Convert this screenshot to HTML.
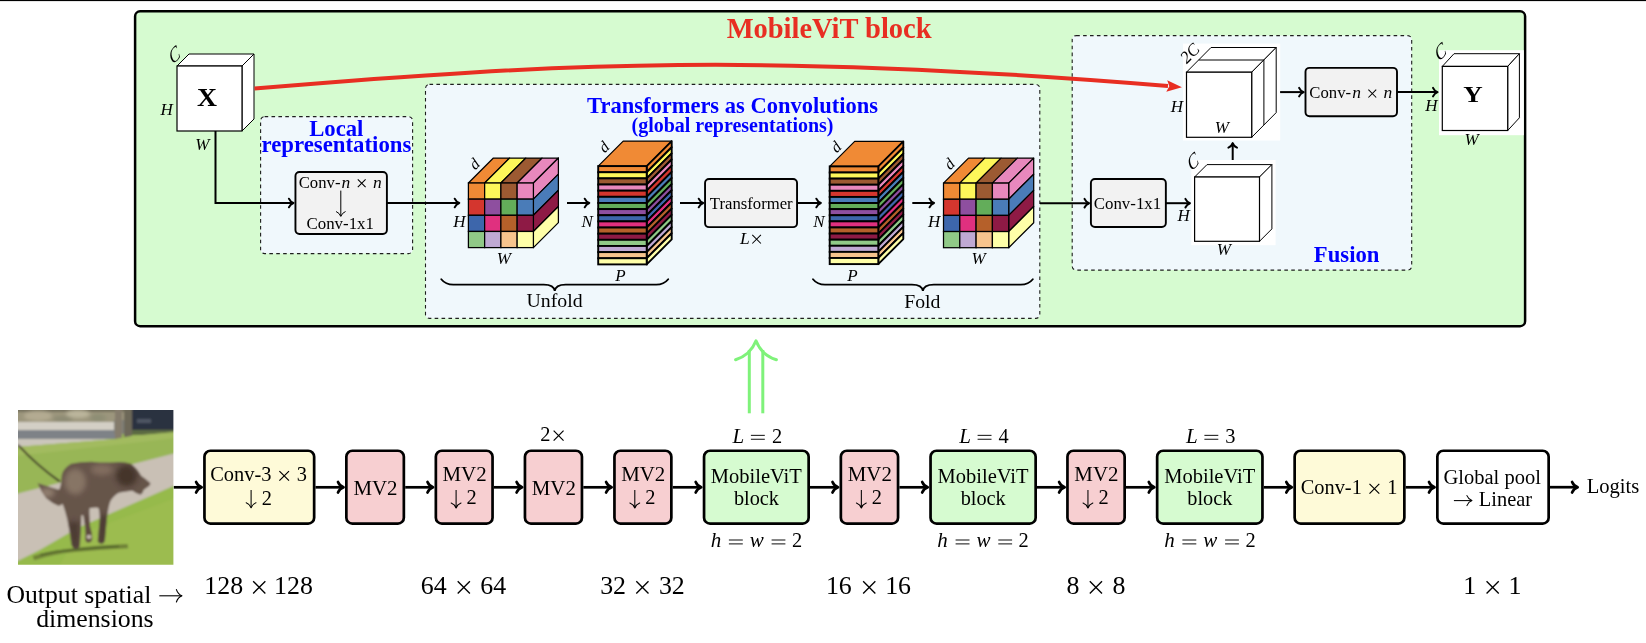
<!DOCTYPE html><html><head><meta charset="utf-8"><title>MobileViT</title><style>html,body{margin:0;padding:0;background:#fff;width:1646px;height:643px;overflow:hidden}svg{display:block;will-change:transform}text{font-family:"Liberation Serif",serif}</style></head><body>
<svg width="1646" height="643" viewBox="0 0 1646 643">
<rect x="0" y="0" width="1646" height="643" fill="#fff"/>
<rect x="0" y="0" width="1646" height="1.1" fill="#000"/>
<rect x="135.1" y="11.3" width="1390" height="314.9" rx="5" ry="5" fill="#d6fbd0" stroke="#000" stroke-width="2.5"/>
<text x="-102.78" y="0" font-size="28.5" font-weight="bold" font-style="normal" fill="#e82e22" transform="translate(829.4,37.7) scale(1.0,1.04)">MobileViT block</text>
<rect x="260.6" y="116.6" width="152" height="137" rx="4" ry="4" fill="#f0f8fc" stroke="#1e1e1e" stroke-width="1.1" stroke-dasharray="3.6,3.3"/>
<text x="309.20" y="135.60" font-size="22.7" font-weight="bold" font-style="normal" fill="#0000ff" >Local</text>
<text x="261.52" y="152.30" font-size="22.8" font-weight="bold" font-style="normal" fill="#0000ff" >representations</text>
<rect x="425.5" y="84.4" width="614.3" height="234" rx="4" ry="4" fill="#f0f8fc" stroke="#1e1e1e" stroke-width="1.1" stroke-dasharray="3.6,3.3"/>
<text x="587.08" y="112.50" font-size="22.5" font-weight="bold" font-style="normal" fill="#0000ff" >Transformers as Convolutions</text>
<text x="631.48" y="132.10" font-size="20.0" font-weight="bold" font-style="normal" fill="#0000ff" >(global representations)</text>
<rect x="1072.2" y="35.6" width="339.5" height="234.5" rx="4" ry="4" fill="#f0f8fc" stroke="#1e1e1e" stroke-width="1.1" stroke-dasharray="3.6,3.3"/>
<text x="1313.84" y="262.00" font-size="22.7" font-weight="bold" font-style="normal" fill="#0000ff" >Fusion</text>
<path d="M177,66 L189,54 L254,54 L242,66 Z" fill="#fff" stroke="#000" stroke-width="1.0" stroke-linejoin="round"/>
<path d="M242,66 L254,54 L254,119 L242,131 Z" fill="#fff" stroke="#000" stroke-width="1.0" stroke-linejoin="round"/>
<rect x="177" y="66" width="65.00" height="65.00" fill="#fff" stroke="#000" stroke-width="1.2"/>
<text x="-9.17" y="0" font-size="25.2" font-weight="bold" font-style="normal" fill="#000" transform="translate(207.15,106.2) scale(1.1,0.96)">X</text>
<text x="160.46" y="115.00" font-size="17" font-weight="normal" font-style="italic" fill="#000" >H</text>
<text x="195.31" y="150.20" font-size="17" font-weight="normal" font-style="italic" fill="#000" >W</text>
<text x="-6.67" y="5.94" font-size="18.2" font-style="italic" transform="translate(174.9,54.6) rotate(-45) skewX(-20)">C</text>
<path d="M254.5,88.5 C565.8,62.26 769.7,53.04 1168,86" fill="none" stroke="#e82e22" stroke-width="4.0"/>
<path d="M0,0 L-15.2,-5.8 L-12.6,0 L-15.2,5.8 Z" fill="#e82e22" transform="translate(1181.9,87.2) rotate(4.7)"/>
<path d="M215.5,131 L215.5,203 L293,203" fill="none" stroke="#000" stroke-width="2" stroke-linejoin="miter"/>
<path d="M288.90,198.70 Q290.19,201.80 293.50,203.00 Q290.19,204.20 288.90,207.30" fill="none" stroke="#000" stroke-width="2.0" stroke-linecap="round" stroke-linejoin="round"/>
<rect x="295.45" y="172" width="91.45" height="62" rx="4" ry="4" fill="#f2f2f2" stroke="#000" stroke-width="1.9"/>
<text x="298.73" y="187.50" font-size="16.7" font-weight="normal" font-style="normal" fill="#000" >Conv-</text>
<text x="341.59" y="187.50" font-size="17.5" font-weight="normal" font-style="italic" fill="#000" >n</text>
<path d="M357.80,179.40 L365.60,187.20 M365.60,179.40 L357.80,187.20" stroke="#000" stroke-width="1.05" fill="none"/>
<text x="372.99" y="187.50" font-size="17.5" font-weight="normal" font-style="italic" fill="#000" >n</text>
<line x1="340.8" y1="190.6" x2="340.8" y2="216" stroke="#000" stroke-width="1.0"/>
<path d="M336.40,211.65 Q339.57,212.99 340.80,216.45 Q342.03,212.99 345.20,211.65" fill="none" stroke="#000" stroke-width="1.0" stroke-linecap="round" stroke-linejoin="round"/>
<text x="306.52" y="229.30" font-size="16.85" font-weight="normal" font-style="normal" fill="#000" >Conv-1x1</text>
<line x1="387" y1="203" x2="459.00" y2="203" stroke="#000" stroke-width="2.0"/>
<path d="M454.70,198.70 Q455.99,201.80 459.30,203.00 Q455.99,204.20 454.70,207.30" fill="none" stroke="#000" stroke-width="2.0" stroke-linecap="round" stroke-linejoin="round"/>
<path d="M468.40,183 L493.40,158 L509.65,158 L484.65,183 Z" fill="#f08a35" stroke="#000" stroke-width="1.25" stroke-linejoin="round"/>
<path d="M484.65,183 L509.65,158 L525.90,158 L500.90,183 Z" fill="#fdf75a" stroke="#000" stroke-width="1.25" stroke-linejoin="round"/>
<path d="M500.90,183 L525.90,158 L542.15,158 L517.15,183 Z" fill="#9c5a32" stroke="#000" stroke-width="1.25" stroke-linejoin="round"/>
<path d="M517.15,183 L542.15,158 L558.40,158 L533.40,183 Z" fill="#e888bd" stroke="#000" stroke-width="1.25" stroke-linejoin="round"/>
<path d="M533.4,183.00 L558.4,158.00 L558.4,174.15 L533.4,199.15 Z" fill="#e888bd" stroke="#000" stroke-width="1.25" stroke-linejoin="round"/>
<path d="M533.4,199.15 L558.4,174.15 L558.4,190.30 L533.4,215.30 Z" fill="#4a7cb8" stroke="#000" stroke-width="1.25" stroke-linejoin="round"/>
<path d="M533.4,215.30 L558.4,190.30 L558.4,206.45 L533.4,231.45 Z" fill="#8e1a45" stroke="#000" stroke-width="1.25" stroke-linejoin="round"/>
<path d="M533.4,231.45 L558.4,206.45 L558.4,222.60 L533.4,247.60 Z" fill="#ffffa8" stroke="#000" stroke-width="1.25" stroke-linejoin="round"/>
<rect x="468.40" y="183.00" width="16.25" height="16.15" fill="#f08a35" stroke="#000" stroke-width="1.25"/>
<rect x="484.65" y="183.00" width="16.25" height="16.15" fill="#fdf75a" stroke="#000" stroke-width="1.25"/>
<rect x="500.90" y="183.00" width="16.25" height="16.15" fill="#9c5a32" stroke="#000" stroke-width="1.25"/>
<rect x="517.15" y="183.00" width="16.25" height="16.15" fill="#e888bd" stroke="#000" stroke-width="1.25"/>
<rect x="468.40" y="199.15" width="16.25" height="16.15" fill="#d4362e" stroke="#000" stroke-width="1.25"/>
<rect x="484.65" y="199.15" width="16.25" height="16.15" fill="#8e4f9f" stroke="#000" stroke-width="1.25"/>
<rect x="500.90" y="199.15" width="16.25" height="16.15" fill="#63ad5a" stroke="#000" stroke-width="1.25"/>
<rect x="517.15" y="199.15" width="16.25" height="16.15" fill="#4a7cb8" stroke="#000" stroke-width="1.25"/>
<rect x="468.40" y="215.30" width="16.25" height="16.15" fill="#3d66ab" stroke="#000" stroke-width="1.25"/>
<rect x="484.65" y="215.30" width="16.25" height="16.15" fill="#e0307f" stroke="#000" stroke-width="1.25"/>
<rect x="500.90" y="215.30" width="16.25" height="16.15" fill="#b5602a" stroke="#000" stroke-width="1.25"/>
<rect x="517.15" y="215.30" width="16.25" height="16.15" fill="#8e1a45" stroke="#000" stroke-width="1.25"/>
<rect x="468.40" y="231.45" width="16.25" height="16.15" fill="#90c987" stroke="#000" stroke-width="1.25"/>
<rect x="484.65" y="231.45" width="16.25" height="16.15" fill="#bfa9d3" stroke="#000" stroke-width="1.25"/>
<rect x="500.90" y="231.45" width="16.25" height="16.15" fill="#f7c48d" stroke="#000" stroke-width="1.25"/>
<rect x="517.15" y="231.45" width="16.25" height="16.15" fill="#ffffa8" stroke="#000" stroke-width="1.25"/>
<text x="453.26" y="226.60" font-size="17" font-weight="normal" font-style="italic" fill="#000" >H</text>
<text x="496.71" y="263.50" font-size="17" font-weight="normal" font-style="italic" fill="#000" >W</text>
<text x="-4.26" y="5.48" font-size="16" font-style="italic" transform="translate(474.5,163.5) rotate(-45) skewX(0)">d</text>
<line x1="567" y1="203" x2="589.00" y2="203" stroke="#000" stroke-width="2.0"/>
<path d="M584.70,198.70 Q585.99,201.80 589.30,203.00 Q585.99,204.20 584.70,207.30" fill="none" stroke="#000" stroke-width="2.0" stroke-linecap="round" stroke-linejoin="round"/>
<path d="M598.2,166.1 L623.2,141.1 L671.7,141.1 L646.7,166.1 Z" fill="#f08a35" stroke="#000" stroke-width="1.2" stroke-linejoin="round"/>
<path d="M646.7,166.10 L671.7,141.10 L671.7,147.24 L646.7,172.24 Z" fill="#f08a35" stroke="#000" stroke-width="1.9" stroke-linejoin="round"/>
<path d="M646.7,172.24 L671.7,147.24 L671.7,153.39 L646.7,178.39 Z" fill="#fdf75a" stroke="#000" stroke-width="1.9" stroke-linejoin="round"/>
<path d="M646.7,178.39 L671.7,153.39 L671.7,159.53 L646.7,184.53 Z" fill="#9c5a32" stroke="#000" stroke-width="1.9" stroke-linejoin="round"/>
<path d="M646.7,184.53 L671.7,159.53 L671.7,165.68 L646.7,190.68 Z" fill="#e888bd" stroke="#000" stroke-width="1.9" stroke-linejoin="round"/>
<path d="M646.7,190.67 L671.7,165.67 L671.7,171.82 L646.7,196.82 Z" fill="#d4362e" stroke="#000" stroke-width="1.9" stroke-linejoin="round"/>
<path d="M646.7,196.82 L671.7,171.82 L671.7,177.96 L646.7,202.96 Z" fill="#4a7cb8" stroke="#000" stroke-width="1.9" stroke-linejoin="round"/>
<path d="M646.7,202.96 L671.7,177.96 L671.7,184.11 L646.7,209.11 Z" fill="#63ad5a" stroke="#000" stroke-width="1.9" stroke-linejoin="round"/>
<path d="M646.7,209.11 L671.7,184.11 L671.7,190.25 L646.7,215.25 Z" fill="#8e4f9f" stroke="#000" stroke-width="1.9" stroke-linejoin="round"/>
<path d="M646.7,215.25 L671.7,190.25 L671.7,196.39 L646.7,221.39 Z" fill="#3d66ab" stroke="#000" stroke-width="1.9" stroke-linejoin="round"/>
<path d="M646.7,221.39 L671.7,196.39 L671.7,202.54 L646.7,227.54 Z" fill="#e0307f" stroke="#000" stroke-width="1.9" stroke-linejoin="round"/>
<path d="M646.7,227.54 L671.7,202.54 L671.7,208.68 L646.7,233.68 Z" fill="#b5602a" stroke="#000" stroke-width="1.9" stroke-linejoin="round"/>
<path d="M646.7,233.68 L671.7,208.68 L671.7,214.82 L646.7,239.82 Z" fill="#8e1a45" stroke="#000" stroke-width="1.9" stroke-linejoin="round"/>
<path d="M646.7,239.82 L671.7,214.82 L671.7,220.97 L646.7,245.97 Z" fill="#90c987" stroke="#000" stroke-width="1.9" stroke-linejoin="round"/>
<path d="M646.7,245.97 L671.7,220.97 L671.7,227.11 L646.7,252.11 Z" fill="#bfa9d3" stroke="#000" stroke-width="1.9" stroke-linejoin="round"/>
<path d="M646.7,252.11 L671.7,227.11 L671.7,233.26 L646.7,258.26 Z" fill="#f7c48d" stroke="#000" stroke-width="1.9" stroke-linejoin="round"/>
<path d="M646.7,258.26 L671.7,233.26 L671.7,239.40 L646.7,264.40 Z" fill="#ffffa8" stroke="#000" stroke-width="1.9" stroke-linejoin="round"/>
<rect x="598.2" y="166.10" width="48.50" height="6.14" fill="#f08a35" stroke="#000" stroke-width="1.9"/>
<rect x="598.2" y="172.24" width="48.50" height="6.14" fill="#fdf75a" stroke="#000" stroke-width="1.9"/>
<rect x="598.2" y="178.39" width="48.50" height="6.14" fill="#9c5a32" stroke="#000" stroke-width="1.9"/>
<rect x="598.2" y="184.53" width="48.50" height="6.14" fill="#e888bd" stroke="#000" stroke-width="1.9"/>
<rect x="598.2" y="190.67" width="48.50" height="6.14" fill="#d4362e" stroke="#000" stroke-width="1.9"/>
<rect x="598.2" y="196.82" width="48.50" height="6.14" fill="#4a7cb8" stroke="#000" stroke-width="1.9"/>
<rect x="598.2" y="202.96" width="48.50" height="6.14" fill="#63ad5a" stroke="#000" stroke-width="1.9"/>
<rect x="598.2" y="209.11" width="48.50" height="6.14" fill="#8e4f9f" stroke="#000" stroke-width="1.9"/>
<rect x="598.2" y="215.25" width="48.50" height="6.14" fill="#3d66ab" stroke="#000" stroke-width="1.9"/>
<rect x="598.2" y="221.39" width="48.50" height="6.14" fill="#e0307f" stroke="#000" stroke-width="1.9"/>
<rect x="598.2" y="227.54" width="48.50" height="6.14" fill="#b5602a" stroke="#000" stroke-width="1.9"/>
<rect x="598.2" y="233.68" width="48.50" height="6.14" fill="#8e1a45" stroke="#000" stroke-width="1.9"/>
<rect x="598.2" y="239.82" width="48.50" height="6.14" fill="#90c987" stroke="#000" stroke-width="1.9"/>
<rect x="598.2" y="245.97" width="48.50" height="6.14" fill="#bfa9d3" stroke="#000" stroke-width="1.9"/>
<rect x="598.2" y="252.11" width="48.50" height="6.14" fill="#f7c48d" stroke="#000" stroke-width="1.9"/>
<rect x="598.2" y="258.26" width="48.50" height="6.14" fill="#ffffa8" stroke="#000" stroke-width="1.9"/>
<text x="581.51" y="226.60" font-size="17" font-weight="normal" font-style="italic" fill="#000" >N</text>
<text x="615.27" y="281.00" font-size="17" font-weight="normal" font-style="italic" fill="#000" >P</text>
<text x="-4.26" y="5.48" font-size="16" font-style="italic" transform="translate(604,146.5) rotate(-45) skewX(0)">d</text>
<line x1="680" y1="203" x2="703.00" y2="203" stroke="#000" stroke-width="2.0"/>
<path d="M698.70,198.70 Q699.99,201.80 703.30,203.00 Q699.99,204.20 698.70,207.30" fill="none" stroke="#000" stroke-width="2.0" stroke-linecap="round" stroke-linejoin="round"/>
<rect x="705.05" y="178.95" width="92" height="48.2" rx="4" ry="4" fill="#f2f2f2" stroke="#000" stroke-width="1.9"/>
<text x="709.83" y="209.10" font-size="16.7" font-weight="normal" font-style="normal" fill="#000" >Transformer</text>
<text x="740.00" y="243.60" font-size="17.5" font-weight="normal" font-style="italic" fill="#000" >L</text>
<path d="M752.30,234.90 L760.90,243.50 M760.90,234.90 L752.30,243.50" stroke="#000" stroke-width="1.05" fill="none"/>
<line x1="798" y1="203" x2="820.60" y2="203" stroke="#000" stroke-width="2.0"/>
<path d="M816.30,198.70 Q817.59,201.80 820.90,203.00 Q817.59,204.20 816.30,207.30" fill="none" stroke="#000" stroke-width="2.0" stroke-linecap="round" stroke-linejoin="round"/>
<path d="M829.7,166.4 L854.7,141.4 L903.3,141.4 L878.3,166.4 Z" fill="#f08a35" stroke="#000" stroke-width="1.2" stroke-linejoin="round"/>
<path d="M878.3,166.40 L903.3,141.40 L903.3,147.51 L878.3,172.51 Z" fill="#f08a35" stroke="#000" stroke-width="1.9" stroke-linejoin="round"/>
<path d="M878.3,172.51 L903.3,147.51 L903.3,153.61 L878.3,178.61 Z" fill="#fdf75a" stroke="#000" stroke-width="1.9" stroke-linejoin="round"/>
<path d="M878.3,178.61 L903.3,153.61 L903.3,159.72 L878.3,184.72 Z" fill="#9c5a32" stroke="#000" stroke-width="1.9" stroke-linejoin="round"/>
<path d="M878.3,184.72 L903.3,159.72 L903.3,165.82 L878.3,190.82 Z" fill="#e888bd" stroke="#000" stroke-width="1.9" stroke-linejoin="round"/>
<path d="M878.3,190.83 L903.3,165.83 L903.3,171.93 L878.3,196.93 Z" fill="#d4362e" stroke="#000" stroke-width="1.9" stroke-linejoin="round"/>
<path d="M878.3,196.93 L903.3,171.93 L903.3,178.04 L878.3,203.04 Z" fill="#4a7cb8" stroke="#000" stroke-width="1.9" stroke-linejoin="round"/>
<path d="M878.3,203.04 L903.3,178.04 L903.3,184.14 L878.3,209.14 Z" fill="#63ad5a" stroke="#000" stroke-width="1.9" stroke-linejoin="round"/>
<path d="M878.3,209.14 L903.3,184.14 L903.3,190.25 L878.3,215.25 Z" fill="#8e4f9f" stroke="#000" stroke-width="1.9" stroke-linejoin="round"/>
<path d="M878.3,215.25 L903.3,190.25 L903.3,196.36 L878.3,221.36 Z" fill="#3d66ab" stroke="#000" stroke-width="1.9" stroke-linejoin="round"/>
<path d="M878.3,221.36 L903.3,196.36 L903.3,202.46 L878.3,227.46 Z" fill="#e0307f" stroke="#000" stroke-width="1.9" stroke-linejoin="round"/>
<path d="M878.3,227.46 L903.3,202.46 L903.3,208.57 L878.3,233.57 Z" fill="#b5602a" stroke="#000" stroke-width="1.9" stroke-linejoin="round"/>
<path d="M878.3,233.57 L903.3,208.57 L903.3,214.68 L878.3,239.68 Z" fill="#8e1a45" stroke="#000" stroke-width="1.9" stroke-linejoin="round"/>
<path d="M878.3,239.68 L903.3,214.68 L903.3,220.78 L878.3,245.78 Z" fill="#90c987" stroke="#000" stroke-width="1.9" stroke-linejoin="round"/>
<path d="M878.3,245.78 L903.3,220.78 L903.3,226.89 L878.3,251.89 Z" fill="#bfa9d3" stroke="#000" stroke-width="1.9" stroke-linejoin="round"/>
<path d="M878.3,251.89 L903.3,226.89 L903.3,232.99 L878.3,257.99 Z" fill="#f7c48d" stroke="#000" stroke-width="1.9" stroke-linejoin="round"/>
<path d="M878.3,257.99 L903.3,232.99 L903.3,239.10 L878.3,264.10 Z" fill="#ffffa8" stroke="#000" stroke-width="1.9" stroke-linejoin="round"/>
<rect x="829.7" y="166.40" width="48.60" height="6.11" fill="#f08a35" stroke="#000" stroke-width="1.9"/>
<rect x="829.7" y="172.51" width="48.60" height="6.11" fill="#fdf75a" stroke="#000" stroke-width="1.9"/>
<rect x="829.7" y="178.61" width="48.60" height="6.11" fill="#9c5a32" stroke="#000" stroke-width="1.9"/>
<rect x="829.7" y="184.72" width="48.60" height="6.11" fill="#e888bd" stroke="#000" stroke-width="1.9"/>
<rect x="829.7" y="190.83" width="48.60" height="6.11" fill="#d4362e" stroke="#000" stroke-width="1.9"/>
<rect x="829.7" y="196.93" width="48.60" height="6.11" fill="#4a7cb8" stroke="#000" stroke-width="1.9"/>
<rect x="829.7" y="203.04" width="48.60" height="6.11" fill="#63ad5a" stroke="#000" stroke-width="1.9"/>
<rect x="829.7" y="209.14" width="48.60" height="6.11" fill="#8e4f9f" stroke="#000" stroke-width="1.9"/>
<rect x="829.7" y="215.25" width="48.60" height="6.11" fill="#3d66ab" stroke="#000" stroke-width="1.9"/>
<rect x="829.7" y="221.36" width="48.60" height="6.11" fill="#e0307f" stroke="#000" stroke-width="1.9"/>
<rect x="829.7" y="227.46" width="48.60" height="6.11" fill="#b5602a" stroke="#000" stroke-width="1.9"/>
<rect x="829.7" y="233.57" width="48.60" height="6.11" fill="#8e1a45" stroke="#000" stroke-width="1.9"/>
<rect x="829.7" y="239.68" width="48.60" height="6.11" fill="#90c987" stroke="#000" stroke-width="1.9"/>
<rect x="829.7" y="245.78" width="48.60" height="6.11" fill="#bfa9d3" stroke="#000" stroke-width="1.9"/>
<rect x="829.7" y="251.89" width="48.60" height="6.11" fill="#f7c48d" stroke="#000" stroke-width="1.9"/>
<rect x="829.7" y="257.99" width="48.60" height="6.11" fill="#ffffa8" stroke="#000" stroke-width="1.9"/>
<text x="813.21" y="226.50" font-size="17" font-weight="normal" font-style="italic" fill="#000" >N</text>
<text x="847.37" y="281.00" font-size="17" font-weight="normal" font-style="italic" fill="#000" >P</text>
<text x="-4.26" y="5.48" font-size="16" font-style="italic" transform="translate(836,146.7) rotate(-45) skewX(0)">d</text>
<line x1="912.3" y1="203" x2="933.80" y2="203" stroke="#000" stroke-width="2.0"/>
<path d="M929.50,198.70 Q930.79,201.80 934.10,203.00 Q930.79,204.20 929.50,207.30" fill="none" stroke="#000" stroke-width="2.0" stroke-linecap="round" stroke-linejoin="round"/>
<path d="M943.50,183.1 L968.50,158.1 L984.80,158.1 L959.80,183.1 Z" fill="#f08a35" stroke="#000" stroke-width="1.25" stroke-linejoin="round"/>
<path d="M959.80,183.1 L984.80,158.1 L1001.10,158.1 L976.10,183.1 Z" fill="#fdf75a" stroke="#000" stroke-width="1.25" stroke-linejoin="round"/>
<path d="M976.10,183.1 L1001.10,158.1 L1017.40,158.1 L992.40,183.1 Z" fill="#9c5a32" stroke="#000" stroke-width="1.25" stroke-linejoin="round"/>
<path d="M992.40,183.1 L1017.40,158.1 L1033.70,158.1 L1008.70,183.1 Z" fill="#e888bd" stroke="#000" stroke-width="1.25" stroke-linejoin="round"/>
<path d="M1008.7,183.10 L1033.7,158.10 L1033.7,174.25 L1008.7,199.25 Z" fill="#e888bd" stroke="#000" stroke-width="1.25" stroke-linejoin="round"/>
<path d="M1008.7,199.25 L1033.7,174.25 L1033.7,190.40 L1008.7,215.40 Z" fill="#4a7cb8" stroke="#000" stroke-width="1.25" stroke-linejoin="round"/>
<path d="M1008.7,215.40 L1033.7,190.40 L1033.7,206.55 L1008.7,231.55 Z" fill="#8e1a45" stroke="#000" stroke-width="1.25" stroke-linejoin="round"/>
<path d="M1008.7,231.55 L1033.7,206.55 L1033.7,222.70 L1008.7,247.70 Z" fill="#ffffa8" stroke="#000" stroke-width="1.25" stroke-linejoin="round"/>
<rect x="943.50" y="183.10" width="16.30" height="16.15" fill="#f08a35" stroke="#000" stroke-width="1.25"/>
<rect x="959.80" y="183.10" width="16.30" height="16.15" fill="#fdf75a" stroke="#000" stroke-width="1.25"/>
<rect x="976.10" y="183.10" width="16.30" height="16.15" fill="#9c5a32" stroke="#000" stroke-width="1.25"/>
<rect x="992.40" y="183.10" width="16.30" height="16.15" fill="#e888bd" stroke="#000" stroke-width="1.25"/>
<rect x="943.50" y="199.25" width="16.30" height="16.15" fill="#d4362e" stroke="#000" stroke-width="1.25"/>
<rect x="959.80" y="199.25" width="16.30" height="16.15" fill="#8e4f9f" stroke="#000" stroke-width="1.25"/>
<rect x="976.10" y="199.25" width="16.30" height="16.15" fill="#63ad5a" stroke="#000" stroke-width="1.25"/>
<rect x="992.40" y="199.25" width="16.30" height="16.15" fill="#4a7cb8" stroke="#000" stroke-width="1.25"/>
<rect x="943.50" y="215.40" width="16.30" height="16.15" fill="#3d66ab" stroke="#000" stroke-width="1.25"/>
<rect x="959.80" y="215.40" width="16.30" height="16.15" fill="#e0307f" stroke="#000" stroke-width="1.25"/>
<rect x="976.10" y="215.40" width="16.30" height="16.15" fill="#b5602a" stroke="#000" stroke-width="1.25"/>
<rect x="992.40" y="215.40" width="16.30" height="16.15" fill="#8e1a45" stroke="#000" stroke-width="1.25"/>
<rect x="943.50" y="231.55" width="16.30" height="16.15" fill="#90c987" stroke="#000" stroke-width="1.25"/>
<rect x="959.80" y="231.55" width="16.30" height="16.15" fill="#bfa9d3" stroke="#000" stroke-width="1.25"/>
<rect x="976.10" y="231.55" width="16.30" height="16.15" fill="#f7c48d" stroke="#000" stroke-width="1.25"/>
<rect x="992.40" y="231.55" width="16.30" height="16.15" fill="#ffffa8" stroke="#000" stroke-width="1.25"/>
<text x="928.06" y="226.50" font-size="17" font-weight="normal" font-style="italic" fill="#000" >H</text>
<text x="971.41" y="263.50" font-size="17" font-weight="normal" font-style="italic" fill="#000" >W</text>
<text x="-4.26" y="5.48" font-size="16" font-style="italic" transform="translate(949.5,163.7) rotate(-45) skewX(0)">d</text>
<path d="M441.3,279.2 C444.3,283.0 447.3,284.6 453.3,284.6 L543.75,284.6 C549.75,284.6 554.15,285.6 554.75,291.0 C555.35,285.6 559.75,284.6 565.75,284.6 L656.2,284.6 C662.2,284.6 665.2,283.0 668.2,279.2" fill="none" stroke="#000" stroke-width="1.8" stroke-linecap="round"/>
<text x="526.58" y="307.30" font-size="19.8" font-weight="normal" font-style="normal" fill="#000" >Unfold</text>
<path d="M813.0,279.2 C816.0,283.0 819.0,284.6 825.0,284.6 L911.9,284.6 C917.9,284.6 922.3,285.6 922.9,291.0 C923.5,285.6 927.9,284.6 933.9,284.6 L1020.8,284.6 C1026.8,284.6 1029.8,283.0 1032.8,279.2" fill="none" stroke="#000" stroke-width="1.8" stroke-linecap="round"/>
<text x="904.23" y="307.50" font-size="19.7" font-weight="normal" font-style="normal" fill="#000" >Fold</text>
<line x1="1040" y1="203.2" x2="1088.80" y2="203.2" stroke="#000" stroke-width="2.0"/>
<path d="M1084.50,198.90 Q1085.79,202.00 1089.10,203.20 Q1085.79,204.40 1084.50,207.50" fill="none" stroke="#000" stroke-width="2.0" stroke-linecap="round" stroke-linejoin="round"/>
<rect x="1090.9" y="178.95" width="74.95" height="48.05" rx="4" ry="4" fill="#f2f2f2" stroke="#000" stroke-width="1.9"/>
<text x="1093.77" y="209.30" font-size="16.85" font-weight="normal" font-style="normal" fill="#000" >Conv-1x1</text>
<line x1="1166" y1="203.2" x2="1189.70" y2="203.2" stroke="#000" stroke-width="2.0"/>
<path d="M1185.40,198.90 Q1186.69,202.00 1190.00,203.20 Q1186.69,204.40 1185.40,207.50" fill="none" stroke="#000" stroke-width="2.0" stroke-linecap="round" stroke-linejoin="round"/>
<rect x="1191.3" y="160" width="84.3" height="85.2" fill="#fff"/>
<path d="M1194.6,177 L1207.0,164.6 L1271.9,164.6 L1259.5,177 Z" fill="#fff" stroke="#000" stroke-width="1.0" stroke-linejoin="round"/>
<path d="M1259.5,177 L1271.9,164.6 L1271.9,228.9 L1259.5,241.3 Z" fill="#fff" stroke="#000" stroke-width="1.0" stroke-linejoin="round"/>
<rect x="1194.6" y="177" width="64.90" height="64.30" fill="#fff" stroke="#000" stroke-width="1.2"/>
<text x="-6.78" y="6.04" font-size="18.5" font-style="italic" transform="translate(1193.3,161.2) rotate(-45) skewX(-20)">C</text>
<text x="1177.56" y="221.00" font-size="17" font-weight="normal" font-style="italic" fill="#000" >H</text>
<text x="1216.81" y="255.40" font-size="17" font-weight="normal" font-style="italic" fill="#000" >W</text>
<line x1="1232.7" y1="160" x2="1232.7" y2="143.5" stroke="#000" stroke-width="2"/>
<path d="M1228.40,147.70 Q1231.50,146.41 1232.70,143.10 Q1233.90,146.41 1237.00,147.70" fill="none" stroke="#000" stroke-width="2.0" stroke-linecap="round" stroke-linejoin="round"/>
<rect x="1183" y="43.6" width="97.2" height="96.9" fill="#fff"/>
<path d="M1186.5,72.2 L1211.0,47.5 L1276.2,47.5 L1251.7,72.2 Z" fill="#fff" stroke="#000" stroke-width="1.0" stroke-linejoin="round"/>
<path d="M1251.7,72.2 L1276.2,47.5 L1276.2,112.60000000000001 L1251.7,137.3 Z" fill="#fff" stroke="#000" stroke-width="1.0" stroke-linejoin="round"/>
<rect x="1186.5" y="72.2" width="65.20" height="65.10" fill="#fff" stroke="#000" stroke-width="1.2"/>
<path d="M1198.7,60 L1263.9,60 L1263.9,125" fill="none" stroke="#000" stroke-width="1"/>
<text x="-10.01" y="5.55" font-size="17" font-style="italic" transform="translate(1190,53.3) rotate(-45) skewX(0)">2C</text>
<text x="1170.86" y="111.50" font-size="17" font-weight="normal" font-style="italic" fill="#000" >H</text>
<text x="1214.71" y="132.50" font-size="17" font-weight="normal" font-style="italic" fill="#000" >W</text>
<line x1="1280.1" y1="92.1" x2="1303.40" y2="92.1" stroke="#000" stroke-width="2.0"/>
<path d="M1299.10,87.80 Q1300.39,90.90 1303.70,92.10 Q1300.39,93.30 1299.10,96.40" fill="none" stroke="#000" stroke-width="2.0" stroke-linecap="round" stroke-linejoin="round"/>
<rect x="1305.5" y="67.85" width="91.5" height="48.45" rx="4" ry="4" fill="#f2f2f2" stroke="#000" stroke-width="1.9"/>
<text x="1309.33" y="97.80" font-size="16.7" font-weight="normal" font-style="normal" fill="#000" >Conv-</text>
<text x="1352.19" y="97.80" font-size="17.5" font-weight="normal" font-style="italic" fill="#000" >n</text>
<path d="M1368.40,89.70 L1376.20,97.50 M1376.20,89.70 L1368.40,97.50" stroke="#000" stroke-width="1.05" fill="none"/>
<text x="1383.59" y="97.80" font-size="17.5" font-weight="normal" font-style="italic" fill="#000" >n</text>
<line x1="1397.4" y1="92.1" x2="1437.30" y2="92.1" stroke="#000" stroke-width="2.0"/>
<path d="M1433.00,87.80 Q1434.29,90.90 1437.60,92.10 Q1434.29,93.30 1433.00,96.40" fill="none" stroke="#000" stroke-width="2.0" stroke-linecap="round" stroke-linejoin="round"/>
<rect x="1439" y="50.2" width="84.8" height="85" fill="#fff"/>
<path d="M1442.3,66.4 L1454.0,53.7 L1519.4,53.7 L1507.7,66.4 Z" fill="#fff" stroke="#000" stroke-width="1.0" stroke-linejoin="round"/>
<path d="M1507.7,66.4 L1519.4,53.7 L1519.4,117.8 L1507.7,130.5 Z" fill="#fff" stroke="#000" stroke-width="1.0" stroke-linejoin="round"/>
<rect x="1442.3" y="66.4" width="65.40" height="64.10" fill="#fff" stroke="#000" stroke-width="1.2"/>
<text x="-9.07" y="0" font-size="25.2" font-weight="bold" font-style="normal" fill="#000" transform="translate(1472.9,102.4) scale(1.07,0.93)">Y</text>
<text x="1425.36" y="110.50" font-size="17" font-weight="normal" font-style="italic" fill="#000" >H</text>
<text x="1464.51" y="144.90" font-size="17" font-weight="normal" font-style="italic" fill="#000" >W</text>
<text x="-6.78" y="6.04" font-size="18.5" font-style="italic" transform="translate(1440.8,51.3) rotate(-45) skewX(-20)">C</text>
<line x1="749.3" y1="413.3" x2="749.3" y2="350" stroke="#7ff27a" stroke-width="3"/>
<line x1="762.8" y1="413.3" x2="762.8" y2="350" stroke="#7ff27a" stroke-width="3"/>
<path d="M735.6,359.8 Q750.5,355 756,340.8 Q761.5,355 776.4,359.8" fill="none" stroke="#7ff27a" stroke-width="3" stroke-linecap="round" stroke-linejoin="round"/>
<line x1="173.7" y1="487.3" x2="201.28" y2="487.3" stroke="#000" stroke-width="2.7"/>
<path d="M196.09,482.00 Q197.65,485.82 201.69,487.30 Q197.65,488.78 196.09,492.60" fill="none" stroke="#000" stroke-width="2.7" stroke-linecap="round" stroke-linejoin="round"/>
<rect x="204.45" y="450.75" width="109.70" height="72.90" rx="6" ry="6" fill="#fefad8" stroke="#000" stroke-width="2.7"/>
<text x="210.28" y="481.10" font-size="20.4" font-weight="normal" font-style="normal" fill="#000" >Conv-3</text>
<path d="M279.40,471.10 L289.00,480.70 M289.00,471.10 L279.40,480.70" stroke="#000" stroke-width="1.2" fill="none"/>
<text x="296.82" y="481.10" font-size="20.4" font-weight="normal" font-style="normal" fill="#000" >3</text>
<line x1="251.1" y1="489.9" x2="251.1" y2="507.59999999999997" stroke="#000" stroke-width="1.05"/>
<path d="M246.20,502.73 Q249.73,504.13 251.10,507.73 Q252.47,504.13 256.00,502.73" fill="none" stroke="#000" stroke-width="1.05" stroke-linecap="round" stroke-linejoin="round"/>
<text x="261.83" y="504.50" font-size="20.4" font-weight="normal" font-style="normal" fill="#000" >2</text>
<line x1="315.5" y1="487.3" x2="343.18" y2="487.3" stroke="#000" stroke-width="2.7"/>
<path d="M337.98,482.00 Q339.55,485.82 343.58,487.30 Q339.55,488.78 337.98,492.60" fill="none" stroke="#000" stroke-width="2.7" stroke-linecap="round" stroke-linejoin="round"/>
<rect x="346.35" y="450.75" width="57.50" height="72.90" rx="6" ry="6" fill="#f7cfd1" stroke="#000" stroke-width="2.7"/>
<text x="353.41" y="494.70" font-size="20.9" font-weight="normal" font-style="normal" fill="#000" >MV2</text>
<line x1="405.2" y1="487.3" x2="432.68" y2="487.3" stroke="#000" stroke-width="2.7"/>
<path d="M427.48,482.00 Q429.05,485.82 433.08,487.30 Q429.05,488.78 427.48,492.60" fill="none" stroke="#000" stroke-width="2.7" stroke-linecap="round" stroke-linejoin="round"/>
<rect x="435.85" y="450.75" width="56.70" height="72.90" rx="6" ry="6" fill="#f7cfd1" stroke="#000" stroke-width="2.7"/>
<text x="442.51" y="480.70" font-size="20.9" font-weight="normal" font-style="normal" fill="#000" >MV2</text>
<line x1="456.09999999999997" y1="490.1" x2="456.09999999999997" y2="507.9" stroke="#000" stroke-width="1.05"/>
<path d="M451.20,503.03 Q454.73,504.43 456.10,508.03 Q457.47,504.43 461.00,503.03" fill="none" stroke="#000" stroke-width="1.05" stroke-linecap="round" stroke-linejoin="round"/>
<text x="466.53" y="504.30" font-size="20.4" font-weight="normal" font-style="normal" fill="#000" >2</text>
<line x1="493.9" y1="487.3" x2="521.78" y2="487.3" stroke="#000" stroke-width="2.7"/>
<path d="M516.58,482.00 Q518.15,485.82 522.18,487.30 Q518.15,488.78 516.58,492.60" fill="none" stroke="#000" stroke-width="2.7" stroke-linecap="round" stroke-linejoin="round"/>
<rect x="524.95" y="450.75" width="57.00" height="72.90" rx="6" ry="6" fill="#f7cfd1" stroke="#000" stroke-width="2.7"/>
<text x="531.76" y="494.70" font-size="20.9" font-weight="normal" font-style="normal" fill="#000" >MV2</text>
<line x1="583.3000000000001" y1="487.3" x2="611.28" y2="487.3" stroke="#000" stroke-width="2.7"/>
<path d="M606.08,482.00 Q607.65,485.82 611.68,487.30 Q607.65,488.78 606.08,492.60" fill="none" stroke="#000" stroke-width="2.7" stroke-linecap="round" stroke-linejoin="round"/>
<rect x="614.45" y="450.75" width="56.90" height="72.90" rx="6" ry="6" fill="#f7cfd1" stroke="#000" stroke-width="2.7"/>
<text x="621.21" y="480.70" font-size="20.9" font-weight="normal" font-style="normal" fill="#000" >MV2</text>
<line x1="634.8" y1="490.1" x2="634.8" y2="507.9" stroke="#000" stroke-width="1.05"/>
<path d="M629.90,503.03 Q633.43,504.43 634.80,508.03 Q636.17,504.43 639.70,503.03" fill="none" stroke="#000" stroke-width="1.05" stroke-linecap="round" stroke-linejoin="round"/>
<text x="645.23" y="504.30" font-size="20.4" font-weight="normal" font-style="normal" fill="#000" >2</text>
<line x1="672.7" y1="487.3" x2="700.88" y2="487.3" stroke="#000" stroke-width="2.7"/>
<path d="M695.68,482.00 Q697.25,485.82 701.28,487.30 Q697.25,488.78 695.68,492.60" fill="none" stroke="#000" stroke-width="2.7" stroke-linecap="round" stroke-linejoin="round"/>
<rect x="704.05" y="450.75" width="104.60" height="72.90" rx="6" ry="6" fill="#d6fbd0" stroke="#000" stroke-width="2.7"/>
<text x="710.81" y="483.30" font-size="20.5" font-weight="normal" font-style="normal" fill="#000" >MobileViT</text>
<text x="733.89" y="505.30" font-size="20.3" font-weight="normal" font-style="normal" fill="#000" >block</text>
<line x1="810.0" y1="487.3" x2="837.68" y2="487.3" stroke="#000" stroke-width="2.7"/>
<path d="M832.48,482.00 Q834.05,485.82 838.08,487.30 Q834.05,488.78 832.48,492.60" fill="none" stroke="#000" stroke-width="2.7" stroke-linecap="round" stroke-linejoin="round"/>
<rect x="840.85" y="450.75" width="57.20" height="72.90" rx="6" ry="6" fill="#f7cfd1" stroke="#000" stroke-width="2.7"/>
<text x="847.76" y="480.70" font-size="20.9" font-weight="normal" font-style="normal" fill="#000" >MV2</text>
<line x1="861.3499999999999" y1="490.1" x2="861.3499999999999" y2="507.9" stroke="#000" stroke-width="1.05"/>
<path d="M856.45,503.03 Q859.98,504.43 861.35,508.03 Q862.72,504.43 866.25,503.03" fill="none" stroke="#000" stroke-width="1.05" stroke-linecap="round" stroke-linejoin="round"/>
<text x="871.78" y="504.30" font-size="20.4" font-weight="normal" font-style="normal" fill="#000" >2</text>
<line x1="899.4000000000001" y1="487.3" x2="927.38" y2="487.3" stroke="#000" stroke-width="2.7"/>
<path d="M922.18,482.00 Q923.75,485.82 927.78,487.30 Q923.75,488.78 922.18,492.60" fill="none" stroke="#000" stroke-width="2.7" stroke-linecap="round" stroke-linejoin="round"/>
<rect x="930.55" y="450.75" width="105.10" height="72.90" rx="6" ry="6" fill="#d6fbd0" stroke="#000" stroke-width="2.7"/>
<text x="937.56" y="483.30" font-size="20.5" font-weight="normal" font-style="normal" fill="#000" >MobileViT</text>
<text x="960.64" y="505.30" font-size="20.3" font-weight="normal" font-style="normal" fill="#000" >block</text>
<line x1="1037.0" y1="487.3" x2="1064.28" y2="487.3" stroke="#000" stroke-width="2.7"/>
<path d="M1059.09,482.00 Q1060.65,485.82 1064.69,487.30 Q1060.65,488.78 1059.09,492.60" fill="none" stroke="#000" stroke-width="2.7" stroke-linecap="round" stroke-linejoin="round"/>
<rect x="1067.45" y="450.75" width="57.20" height="72.90" rx="6" ry="6" fill="#f7cfd1" stroke="#000" stroke-width="2.7"/>
<text x="1074.36" y="480.70" font-size="20.9" font-weight="normal" font-style="normal" fill="#000" >MV2</text>
<line x1="1087.95" y1="490.1" x2="1087.95" y2="507.9" stroke="#000" stroke-width="1.05"/>
<path d="M1083.05,503.03 Q1086.58,504.43 1087.95,508.03 Q1089.32,504.43 1092.85,503.03" fill="none" stroke="#000" stroke-width="1.05" stroke-linecap="round" stroke-linejoin="round"/>
<text x="1098.38" y="504.30" font-size="20.4" font-weight="normal" font-style="normal" fill="#000" >2</text>
<line x1="1126.0" y1="487.3" x2="1153.98" y2="487.3" stroke="#000" stroke-width="2.7"/>
<path d="M1148.79,482.00 Q1150.35,485.82 1154.39,487.30 Q1150.35,488.78 1148.79,492.60" fill="none" stroke="#000" stroke-width="2.7" stroke-linecap="round" stroke-linejoin="round"/>
<rect x="1157.15" y="450.75" width="105.30" height="72.90" rx="6" ry="6" fill="#d6fbd0" stroke="#000" stroke-width="2.7"/>
<text x="1164.26" y="483.30" font-size="20.5" font-weight="normal" font-style="normal" fill="#000" >MobileViT</text>
<text x="1187.34" y="505.30" font-size="20.3" font-weight="normal" font-style="normal" fill="#000" >block</text>
<line x1="1263.8" y1="487.3" x2="1291.48" y2="487.3" stroke="#000" stroke-width="2.7"/>
<path d="M1286.29,482.00 Q1287.85,485.82 1291.89,487.30 Q1287.85,488.78 1286.29,492.60" fill="none" stroke="#000" stroke-width="2.7" stroke-linecap="round" stroke-linejoin="round"/>
<rect x="1294.65" y="450.75" width="109.70" height="72.90" rx="6" ry="6" fill="#fefad8" stroke="#000" stroke-width="2.7"/>
<text x="1300.68" y="494.00" font-size="20.4" font-weight="normal" font-style="normal" fill="#000" >Conv-1</text>
<path d="M1369.50,483.80 L1379.30,493.60 M1379.30,483.80 L1369.50,493.60" stroke="#000" stroke-width="1.2" fill="none"/>
<text x="1387.32" y="494.00" font-size="20.4" font-weight="normal" font-style="normal" fill="#000" >1</text>
<line x1="1405.7" y1="487.3" x2="1434.18" y2="487.3" stroke="#000" stroke-width="2.7"/>
<path d="M1428.99,482.00 Q1430.55,485.82 1434.59,487.30 Q1430.55,488.78 1428.99,492.60" fill="none" stroke="#000" stroke-width="2.7" stroke-linecap="round" stroke-linejoin="round"/>
<rect x="1437.35" y="450.75" width="111.30" height="72.90" rx="6" ry="6" fill="#fff" stroke="#000" stroke-width="2.7"/>
<text x="1443.48" y="483.60" font-size="20.5" font-weight="normal" font-style="normal" fill="#000" >Global pool</text>
<line x1="1453.9" y1="500.6" x2="1471.8000000000002" y2="500.6" stroke="#000" stroke-width="1.05"/>
<path d="M1466.93,495.60 Q1468.33,499.20 1471.93,500.60 Q1468.33,502.00 1466.93,505.60" fill="none" stroke="#000" stroke-width="1.05" stroke-linecap="round" stroke-linejoin="round"/>
<text x="1478.84" y="505.70" font-size="20.4" font-weight="normal" font-style="normal" fill="#000" >Linear</text>
<line x1="1549.8" y1="487.2" x2="1577.28" y2="487.2" stroke="#000" stroke-width="2.7"/>
<path d="M1572.09,481.90 Q1573.65,485.72 1577.69,487.20 Q1573.65,488.68 1572.09,492.50" fill="none" stroke="#000" stroke-width="2.7" stroke-linecap="round" stroke-linejoin="round"/>
<text x="1586.63" y="492.90" font-size="20.6" font-weight="normal" font-style="normal" fill="#000" >Logits</text>
<text x="540.23" y="440.60" font-size="20.4" font-weight="normal" font-style="normal" fill="#000" >2</text>
<path d="M553.65,430.70 L563.55,440.60 M563.55,430.70 L553.65,440.60" stroke="#000" stroke-width="1.2" fill="none"/>
<text x="732.48" y="442.50" font-size="21" font-weight="normal" font-style="italic" fill="#000" >L</text>
<path d="M750.90,435.35 L764.80,435.35 M750.90,439.25 L764.80,439.25" stroke="#000" stroke-width="0.95" fill="none"/>
<text x="771.88" y="442.50" font-size="20.4" font-weight="normal" font-style="normal" fill="#000" >2</text>
<text x="710.63" y="547.20" font-size="21" font-weight="normal" font-style="italic" fill="#000" >h</text>
<path d="M728.90,540.00 L742.80,540.00 M728.90,543.90 L742.80,543.90" stroke="#000" stroke-width="0.95" fill="none"/>
<text x="749.81" y="547.20" font-size="21" font-weight="normal" font-style="italic" fill="#000" >w</text>
<path d="M771.60,540.00 L785.40,540.00 M771.60,543.90 L785.40,543.90" stroke="#000" stroke-width="0.95" fill="none"/>
<text x="791.88" y="547.20" font-size="20.4" font-weight="normal" font-style="normal" fill="#000" >2</text>
<text x="959.18" y="442.50" font-size="21" font-weight="normal" font-style="italic" fill="#000" >L</text>
<path d="M977.60,435.35 L991.50,435.35 M977.60,439.25 L991.50,439.25" stroke="#000" stroke-width="0.95" fill="none"/>
<text x="998.40" y="442.50" font-size="20.4" font-weight="normal" font-style="normal" fill="#000" >4</text>
<text x="937.33" y="547.20" font-size="21" font-weight="normal" font-style="italic" fill="#000" >h</text>
<path d="M955.60,540.00 L969.50,540.00 M955.60,543.90 L969.50,543.90" stroke="#000" stroke-width="0.95" fill="none"/>
<text x="976.51" y="547.20" font-size="21" font-weight="normal" font-style="italic" fill="#000" >w</text>
<path d="M998.30,540.00 L1012.10,540.00 M998.30,543.90 L1012.10,543.90" stroke="#000" stroke-width="0.95" fill="none"/>
<text x="1018.58" y="547.20" font-size="20.4" font-weight="normal" font-style="normal" fill="#000" >2</text>
<text x="1185.98" y="442.50" font-size="21" font-weight="normal" font-style="italic" fill="#000" >L</text>
<path d="M1204.40,435.35 L1218.30,435.35 M1204.40,439.25 L1218.30,439.25" stroke="#000" stroke-width="0.95" fill="none"/>
<text x="1225.17" y="442.50" font-size="20.4" font-weight="normal" font-style="normal" fill="#000" >3</text>
<text x="1164.13" y="547.20" font-size="21" font-weight="normal" font-style="italic" fill="#000" >h</text>
<path d="M1182.40,540.00 L1196.30,540.00 M1182.40,543.90 L1196.30,543.90" stroke="#000" stroke-width="0.95" fill="none"/>
<text x="1203.31" y="547.20" font-size="21" font-weight="normal" font-style="italic" fill="#000" >w</text>
<path d="M1225.10,540.00 L1238.90,540.00 M1225.10,543.90 L1238.90,543.90" stroke="#000" stroke-width="0.95" fill="none"/>
<text x="1245.38" y="547.20" font-size="20.4" font-weight="normal" font-style="normal" fill="#000" >2</text>
<text x="204.33" y="593.70" font-size="25.9" font-weight="normal" font-style="normal" fill="#000" >128</text>
<text x="274.02" y="593.70" font-size="25.9" font-weight="normal" font-style="normal" fill="#000" >128</text>
<path d="M253.15,581.20 L265.35,593.40 M265.35,581.20 L253.15,593.40" stroke="#000" stroke-width="1.35" fill="none"/>
<text x="420.80" y="593.70" font-size="25.9" font-weight="normal" font-style="normal" fill="#000" >64</text>
<text x="480.19" y="593.70" font-size="25.9" font-weight="normal" font-style="normal" fill="#000" >64</text>
<path d="M457.70,581.20 L469.90,593.40 M469.90,581.20 L457.70,593.40" stroke="#000" stroke-width="1.35" fill="none"/>
<text x="600.17" y="593.70" font-size="25.9" font-weight="normal" font-style="normal" fill="#000" >32</text>
<text x="658.92" y="593.70" font-size="25.9" font-weight="normal" font-style="normal" fill="#000" >32</text>
<path d="M636.30,581.20 L648.50,593.40 M648.50,581.20 L636.30,593.40" stroke="#000" stroke-width="1.35" fill="none"/>
<text x="825.93" y="593.70" font-size="25.9" font-weight="normal" font-style="normal" fill="#000" >16</text>
<text x="885.18" y="593.70" font-size="25.9" font-weight="normal" font-style="normal" fill="#000" >16</text>
<path d="M863.15,581.20 L875.35,593.40 M875.35,581.20 L863.15,593.40" stroke="#000" stroke-width="1.35" fill="none"/>
<text x="1066.43" y="593.70" font-size="25.9" font-weight="normal" font-style="normal" fill="#000" >8</text>
<text x="1112.42" y="593.70" font-size="25.9" font-weight="normal" font-style="normal" fill="#000" >8</text>
<path d="M1089.80,581.20 L1102.00,593.40 M1102.00,581.20 L1089.80,593.40" stroke="#000" stroke-width="1.35" fill="none"/>
<text x="1463.23" y="593.70" font-size="25.9" font-weight="normal" font-style="normal" fill="#000" >1</text>
<text x="1508.40" y="593.70" font-size="25.9" font-weight="normal" font-style="normal" fill="#000" >1</text>
<path d="M1486.55,581.20 L1498.75,593.40 M1498.75,581.20 L1486.55,593.40" stroke="#000" stroke-width="1.35" fill="none"/>
<text x="6.47" y="602.70" font-size="25.7" font-weight="normal" font-style="normal" fill="#000" >Output spatial</text>
<line x1="159.3" y1="595.8" x2="181.8" y2="595.8" stroke="#000" stroke-width="1.1"/>
<path d="M176.41,589.60 Q177.94,594.06 181.91,595.80 Q177.94,597.54 176.41,602.00" fill="none" stroke="#000" stroke-width="1.1" stroke-linecap="round" stroke-linejoin="round"/>
<text x="36.14" y="627.00" font-size="25.8" font-weight="normal" font-style="normal" fill="#000" >dimensions</text>
<g transform="translate(18,410)">
<defs><clipPath id="pc"><rect x="0" y="0" width="155.4" height="154.7"/></clipPath><clipPath id="dogc"><path d="M45,195 Q60,200 80,205 Q130,222 170,232 Q182,215 185,150 Q190,110 240,80 Q290,68 360,68 Q430,76 500,72 Q545,66 590,80 Q625,105 650,150 Q680,170 705,195 Q700,212 690,215 Q675,228 665,232 Q662,252 645,262 Q620,255 600,238 Q570,240 520,250 Q490,265 470,300 Q458,330 450,400 L438,530 Q432,548 420,548 Q400,548 396,532 L408,400 Q408,360 400,338 Q380,335 348,340 Q345,400 352,450 Q368,500 362,530 Q350,545 332,540 Q318,528 325,490 Q322,440 312,385 Q305,375 300,385 Q300,470 292,560 Q284,582 262,578 Q242,570 240,540 Q232,470 218,405 Q205,350 190,315 Q180,326 165,326 Q130,312 95,282 Q62,240 45,195 Z"/></clipPath><filter id="bl" x="-5%" y="-5%" width="110%" height="110%"><feGaussianBlur stdDeviation="0.8"/></filter><filter id="bl2" x="-20%" y="-20%" width="140%" height="140%"><feGaussianBlur stdDeviation="1.6"/></filter><filter id="bl3" x="-30%" y="-30%" width="160%" height="160%"><feGaussianBlur stdDeviation="14"/></filter></defs>
<g clip-path="url(#pc)"><g filter="url(#bl)">
<rect x="-2" y="-2" width="160" height="160" fill="#98b852"/>
<rect x="-2" y="-2" width="160" height="15" fill="#9c967d"/>
<rect x="-2" y="-2" width="160" height="4" fill="#77725f"/>
<g filter="url(#bl2)">
<ellipse cx="20" cy="6" rx="14" ry="5" fill="#b4ab92"/>
<ellipse cx="60" cy="4" rx="12" ry="4" fill="#bcb69c"/>
<ellipse cx="45" cy="9" rx="10" ry="3" fill="#8c8a72"/>
<ellipse cx="80" cy="8" rx="8" ry="4" fill="#8e8e74"/>
</g>
<polygon points="-2,12 98,12 98,20 -2,21" fill="#d3cfc5"/>
<polygon points="-2,20 98,20 98,29 -2,30" fill="#7e8287"/>
<polygon points="-2,29 98,29 98,32 -2,37" fill="#cbc6bb"/>
<rect x="96" y="10" width="20" height="14" fill="#7f8079"/>
<rect x="113" y="-2" width="45" height="24" fill="#2c3140"/>
<rect x="119" y="9" width="14" height="4" fill="#4d5464"/>
<rect x="112" y="20" width="46" height="5" fill="#5b6a42"/>
<rect x="97" y="-2" width="7" height="36" fill="#857b6c"/>
<rect x="106" y="-2" width="8" height="33" fill="#6d6859"/>
<polygon points="-2,37 98,29 114,26 158,22 158,43 -2,84" fill="#98b656"/>
<polygon points="-2,37 98,29 114,26 158,22 158,28 -2,46" fill="#a2bb5e"/>
<polygon points="-2,84 158,43 158,75 110,96 60,118 22,140 -2,152" fill="#c9c0b5"/>
<polygon points="-2,152 22,140 60,118 110,96 158,75 158,158 -2,158" fill="#96ba4c"/>
<polygon points="60,125 158,88 158,158 40,158" fill="#9cbc50"/>
<g transform="translate(12,40) scale(0.1710)">
<path d="M15,620 Q120,588 250,574 Q420,556 570,550 L575,575 Q420,582 260,597 Q130,610 25,645 Z" fill="#6f8238"/>
<path d="M60,612 Q150,590 250,583 Q400,570 520,562" stroke="#56692c" stroke-width="12" fill="none"/>
<path d="M-70,-30 Q40,90 175,185" stroke="#3a2f25" stroke-width="11" fill="none"/>
<path d="M45,195 Q60,200 80,205 Q130,222 170,232 Q182,215 185,150 Q190,110 240,80 Q290,68 360,68 Q430,76 500,72 Q545,66 590,80 Q625,105 650,150 Q680,170 705,195 Q700,212 690,215 Q675,228 665,232 Q662,252 645,262 Q620,255 600,238 Q570,240 520,250 Q490,265 470,300 Q458,330 450,400 L438,530 Q432,548 420,548 Q400,548 396,532 L408,400 Q408,360 400,338 Q380,335 348,340 Q345,400 352,450 Q368,500 362,530 Q350,545 332,540 Q318,528 325,490 Q322,440 312,385 Q305,375 300,385 Q300,470 292,560 Q284,582 262,578 Q242,570 240,540 Q232,470 218,405 Q205,350 190,315 Q180,326 165,326 Q130,312 95,282 Q62,240 45,195 Z" fill="#66544a"/>
<g clip-path="url(#dogc)"><g filter="url(#bl3)">
<ellipse cx="265" cy="185" rx="62" ry="75" fill="#877465"/>
<ellipse cx="420" cy="115" rx="65" ry="32" fill="#826d5e"/>
<ellipse cx="565" cy="150" rx="62" ry="62" fill="#45352c"/>
<ellipse cx="100" cy="250" rx="45" ry="28" fill="#927f70"/>
<path d="M220,420 L290,420 L286,580 L250,580 Z" fill="#4c3b31"/>
<path d="M410,380 L450,380 L436,550 L402,550 Z" fill="#47372e"/>
<path d="M330,380 L360,380 L362,540 L325,540 Z" fill="#5a473c"/>
</g></g>
<ellipse cx="345" cy="508" rx="15" ry="13" fill="#bdb3a8"/>
</g>
</g></g></g>
</svg></body></html>
